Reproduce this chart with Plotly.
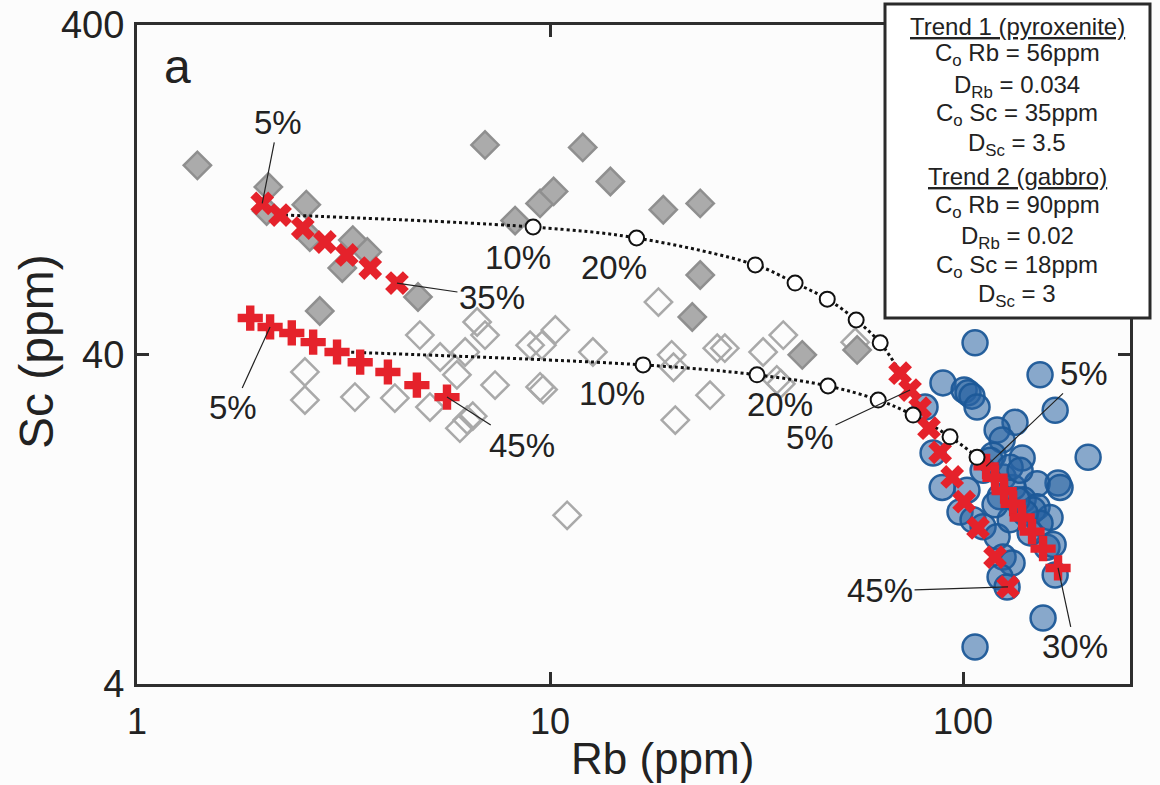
import numpy as np
import plotly.graph_objects as go

# ---------------- data ----------------
# gray filled diamonds
filled_rb = [1.40, 2.08, 2.57, 2.06, 2.62, 3.33, 3.61, 3.14, 4.79, 2.77, 6.96, 8.23,
             9.46, 10.2, 12.0, 14.0, 18.8, 23.1, 23.1, 22.1, 40.8, 55.4]
filled_sc = [150, 129, 114, 109, 90.9, 89.0, 81.9, 73.2, 59.8, 54.2, 173, 102,
             115, 125, 170, 134, 110, 115, 69.7, 52.0, 39.9, 41.3]

# open diamonds
open_rb = [2.55, 2.55, 3.37, 4.21, 4.84, 5.12, 5.42, 5.95, 6.23, 6.66, 6.96, 6.05,
           6.30, 6.50, 7.36, 8.95, 9.56, 10.3, 9.46, 9.62, 12.7, 11.0, 18.3, 19.7,
           19.9, 20.1, 24.4, 25.4, 26.5, 32.8, 36.7, 35.4, 36.2, 54.8]
open_sc = [35.4, 29.1, 29.7, 29.5, 45.8, 27.7, 39.3, 34.7, 40.7, 50.2, 45.8, 23.9,
           25.3, 26.0, 32.3, 42.7, 42.7, 47.5, 31.9, 31.3, 40.7, 13.0, 57.7, 39.9,
           36.6, 25.3, 30.1, 41.8, 41.8, 40.7, 45.8, 33.5, 32.6, 43.6]

# blue circles
blue_rb = [106.9, 89.4, 100.6, 102.8, 105.1, 108.1, 80.9, 153.6, 167.1, 133.6, 120.9,
           124.3, 139.0, 118.2, 84.6, 200.8, 169.8, 151.1, 89.0, 102.2, 111.8, 125.0,
           132.2, 122.9, 139.8, 151.1, 162.4, 98.3, 105.7, 111.8, 120.9, 125.0, 131.4,
           122.9, 127.8, 156.2, 106.9, 147.7, 153.6, 159.7, 167.1, 171.7, 130.0, 141.3,
           135.1, 116.3, 130.0, 145.3, 165.2, 137.4, 119.5]
blue_sc = [43.4, 32.8, 31.2, 30.6, 29.9, 27.7, 27.7, 34.7, 27.1, 24.9, 23.6,
           22.0, 19.4, 19.8, 20.1, 19.5, 16.3, 16.2, 15.8, 15.5, 17.8, 17.0,
           15.8, 14.8, 14.5, 13.8, 12.8, 13.3, 12.6, 12.0, 11.2, 9.71, 9.32,
           8.45, 7.88, 6.34, 5.18, 13.5, 12.3, 10.4, 8.57, 15.8, 12.6, 13.2,
           14.5, 19.1, 18.2, 11.5, 10.6, 17.8, 14.0]

# Trend 1 (pyroxenite) model, x markers
t1_cum_rb = [2.01, 2.22, 2.52, 2.85, 3.22, 3.67, 4.26]
t1_cum_sc = [115, 106, 96.8, 87.8, 80.2, 73.2, 65.9]
t1_liq_rb = [70.4, 74.4, 78.7, 82.7, 88.0, 94.1, 100.6, 108.7, 119.5, 128.5]
t1_liq_sc = [35.1, 31.2, 27.5, 23.9, 20.2, 17.0, 14.3, 11.9, 9.71, 7.88]

# Trend 2 (gabbro) model, + markers
t2_cum_rb = [1.88, 2.10, 2.37, 2.67, 3.05, 3.47, 4.05, 4.76, 5.63]
t2_cum_sc = [51.6, 48.5, 46.5, 43.6, 40.7, 37.9, 35.4, 32.3, 29.7]
t2_liq_rb = [113.7, 119.5, 125.7, 132.2, 139.0, 146.9, 156.2, 169.8]
t2_liq_sc = [18.3, 16.9, 15.4, 14.1, 12.8, 11.6, 10.3, 9.0]

# dotted mixing curves (ends + open-circle nodes)
mix1_rb = [2.28, 9.10, 16.2, 31.4, 39.2, 46.9, 55.1, 63.0, 70.4]
mix1_sc = [106, 97.5, 90.3, 74.8, 65.9, 58.9, 50.9, 43.4, 35.4]
mix2_rb = [3.19, 16.8, 31.7, 47.1, 62.3, 75.7, 93.0, 108.1, 114.3]
mix2_sc = [40.7, 37.2, 34.7, 32.1, 29.1, 26.2, 22.5, 19.5, 18.1]

x_ticks = [1, 10, 100]
y_ticks = [4, 40, 400]

legend_lines = [
    "<u>Trend 1 (pyroxenite)</u>",
    "C<sub>o</sub> Rb = 56ppm",
    "D<sub>Rb</sub> = 0.034",
    "C<sub>o</sub> Sc = 35ppm",
    "D<sub>Sc</sub> = 3.5",
    "<u>Trend 2 (gabbro)</u>",
    "C<sub>o</sub> Rb = 90ppm",
    "D<sub>Rb</sub> = 0.02",
    "C<sub>o</sub> Sc = 18ppm",
    "D<sub>Sc</sub> = 3",
]

# ---------------- figure ----------------
FONT = "Liberation Sans, Arial, sans-serif"
RED = "#e5222b"
INK = "#222222"

fig = go.Figure()
fig.add_trace(go.Scatter(x=open_rb, y=open_sc, mode="markers",
                         marker=dict(symbol="diamond-open", size=21, color="#a9a9a9",
                                     line=dict(width=2.5, color="#a9a9a9"))))
fig.add_trace(go.Scatter(x=filled_rb, y=filled_sc, mode="markers",
                         marker=dict(symbol="diamond", size=21, color="#ababab",
                                     line=dict(width=2.5, color="#8f8f8f"))))
fig.add_trace(go.Scatter(x=blue_rb, y=blue_sc, mode="markers",
                         marker=dict(symbol="circle", size=25, color="rgba(40,98,162,0.55)",
                                     line=dict(width=2.5, color="rgba(28,88,152,0.95)"))))
for rb, sc in [(mix1_rb, mix1_sc), (mix2_rb, mix2_sc)]:
    fig.add_trace(go.Scatter(x=rb, y=sc, mode="lines",
                             line=dict(color="#111111", width=3, dash="dot", shape="spline")))
for rb, sc, sym in [(t1_cum_rb, t1_cum_sc, "x"), (t1_liq_rb, t1_liq_sc, "x"),
                    (t2_cum_rb, t2_cum_sc, "cross"), (t2_liq_rb, t2_liq_sc, "cross")]:
    fig.add_trace(go.Scatter(x=rb, y=sc, mode="markers",
                             marker=dict(symbol=sym, size=21, color=RED,
                                         line=dict(width=0))))
for rb, sc in [(mix1_rb, mix1_sc), (mix2_rb, mix2_sc)]:
    fig.add_trace(go.Scatter(x=rb[1:-1], y=sc[1:-1], mode="markers",
                             marker=dict(symbol="circle", size=15, color="white",
                                         line=dict(width=2, color="#111111"))))

# full-page figure (body margin removed in post_script)
W, H = 1160, 785
L, R, T, B = 137, 30, 25, 101
PW, PH = W - L - R, H - T - B


def px(xp):  # page pixel -> paper x
    return (xp - L) / PW


def py(yp):  # page pixel -> paper y
    return (H - B - yp) / PH


ann = []
# labels with leader lines: (rb, sc, text, ax, ay)
leaders = [
    (t1_cum_rb[0], t1_cum_sc[0], "5%", 16, -81),
    (t1_cum_rb[-1], t1_cum_sc[-1], "35%", 95, 14),
    (t2_cum_rb[1], t2_cum_sc[1], "5%", -37, 81),
    (t2_cum_rb[-1], t2_cum_sc[-1], "45%", 75, 48),
    (t1_liq_rb[1], t1_liq_sc[1], "5%", -100, 47),
    (t2_liq_rb[0], t2_liq_sc[0], "5%", 98, -93),
    (t1_liq_rb[-1], t1_liq_sc[-1], "45%", -128, 4),
    (t2_liq_rb[-1], t2_liq_sc[-1], "30%", 17, 79),
]
for rb, sc, txt, ax, ay in leaders:
    ann.append(dict(x=np.log10(rb), y=np.log10(sc), xref="x", yref="y", text=txt,
                    showarrow=True, ax=ax, ay=ay, arrowhead=0, arrowwidth=1.2,
                    arrowcolor=INK, standoff=0, xanchor="center", yanchor="middle",
                    font=dict(family=FONT, size=33, color=INK)))


def label(xp, yp, txt, size, **kw):
    d = dict(x=px(xp), y=py(yp), xref="paper", yref="paper", text=txt, showarrow=False,
             xanchor="center", yanchor="middle", font=dict(family=FONT, size=size, color=INK))
    d.update(kw)
    ann.append(d)


# node labels
for xp, yp, txt in [(518, 257, "10%"), (614, 267, "20%"), (612, 393, "10%"), (780, 404, "20%")]:
    label(xp, yp, txt, 33)
# panel letter
label(177, 66, "a", 48)
# axis titles
label(662, 758, "Rb (ppm)", 44)
label(36, 352, "Sc (ppm)", 48, textangle=-90)
# legend box text
leg_y = [27, 55, 86, 115, 144, 177, 206, 238, 266, 295]
for yp, txt in zip(leg_y, legend_lines):
    label(1017, yp, txt, 24, borderpad=0)

shapes = [dict(type="rect", xref="paper", yref="paper", x0=px(885), x1=px(1150),
               y0=py(318), y1=py(4), fillcolor="white",
               line=dict(color="#2a2a2a", width=3), layer="above")]

axis_common = dict(type="log", showgrid=False, zeroline=False, showline=True,
                   linecolor="#2e2e2e", linewidth=3, mirror="ticks", ticks="inside",
                   ticklen=12, tickwidth=3, tickcolor="#2e2e2e",
                   ticklabeloverflow="allow", automargin=False)

fig.update_layout(
    width=W, height=H, margin=dict(l=L, r=R, t=T, b=B, pad=0, autoexpand=False),
    paper_bgcolor="#fcfcfc", plot_bgcolor="#fcfcfc", showlegend=False,
    xaxis=dict(**axis_common, range=[0, np.log10(253.6)], tickvals=x_ticks,
               ticktext=[str(v) for v in x_ticks], ticklabelstandoff=4,
               tickfont=dict(family=FONT, size=36, color=INK)),
    yaxis=dict(**axis_common, range=[np.log10(4), np.log10(400)], tickvals=y_ticks,
               ticktext=[str(v) for v in y_ticks], ticklabelstandoff=2,
               tickfont=dict(family=FONT, size=38, color=INK)),
    annotations=ann, shapes=shapes,
)

fig.write_html("out.html", config={"displayModeBar": False},
               post_script="document.body.style.margin='0px';document.body.style.padding='0px';")
